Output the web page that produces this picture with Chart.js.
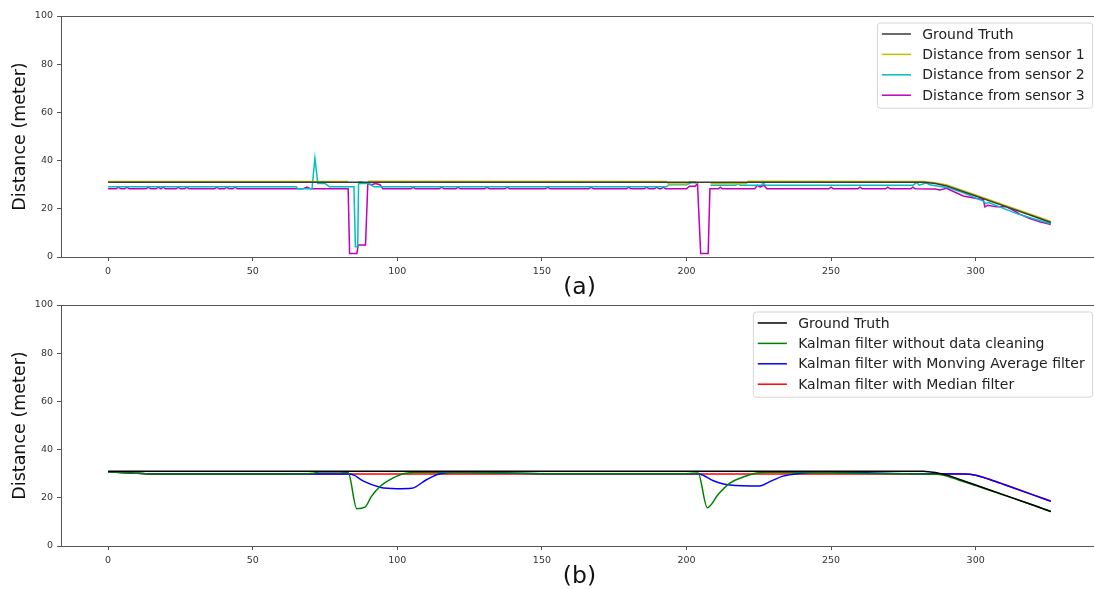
<!DOCTYPE html>
<html>
<head>
<meta charset="utf-8">
<script src="https://cdn.jsdelivr.net/npm/chart.js@4.4.0/dist/chart.umd.min.js"></script>
<style>
html, body { margin: 0; padding: 0; background: #fff; overflow: hidden; }
#wrap { position: relative; width: 1094px; height: 589px; overflow: hidden; }
.box { position: absolute; left: 0; width: 1100px; height: 300px; }
</style>
</head>
<body>
<div id="wrap">
  <div class="box" style="top:0"><canvas id="chartA" width="1100" height="300"></canvas></div>
  <div class="box" style="top:289px"><canvas id="chartB" width="1100" height="300"></canvas></div>
</div>
<script>
// axis setup
const xTicks = [0, 50, 100, 150, 200, 250, 300];
const yTicks = [0, 20, 40, 60, 80, 100];
const xMin = -16.3, xMax = 342.3;

// [sample, distance]; null = hidden behind sensor 3's drop
const groundTruth = [[0,31],[282,31],[286,30.5],[290,29.5],[300,25.3],[310,21.1],[320,16.9],[326,14.3]];

const sensor1 = [[0,31.3],[83,31.3],[83.3,null],[86.5,31.2],[88,31.2],[88.3,null],[89.8,31.4],
  [193,31.3],[194,30.3],[200,30.3],[201,31.2],[203,31.2],[203.8,30.5],[204.3,null],
  [208.3,30.4],[220.5,30.4],[221.5,31.4],[282,31.3],[286,30.8],[290,29.9],[300,25.7],[310,21.5],[320,17.3],[326,14.7]];

const sensor2 = [[0,29.1],[65,29.1],[65.5,28.3],[70.5,28.3],[71.5,41],[72.5,30.5],[75,30.5],[76.5,29.1],
  [85,29.1],[85.5,4.3],[86.3,4.3],[86.6,30.5],[90,30.5],[92,29.1],[193,29.1],[194,30],[200,30],[201.5,30.8],
  [203,30.8],[203.8,30.5],[204.3,null],[208.3,29.8],[217,29.8],[217.8,30.4],[218.6,29.8],[226,29.8],
  [226.5,30.8],[227.2,29.8],[278.4,29.8],[279.5,30.9],[280.5,29.8],[283,30.8],[284,30],[291,28.6],[296,26.5],
  [302.6,23.2],[303.5,22.2],[304.5,22.6],[314,18.1],[320,15.9],[326,13.8]];

const sensor3 = [[0,28.3],[2.8,28.3],[3.6,29],[4.4,28.3],[5.7,28.3],[6.5,29],[7.3,28.3],[13.1,28.3],[13.9,29],
  [14.7,28.3],[16.6,28.3],[17.4,29],[18.2,28.3],[19.1,29],[19.9,28.3],[23.5,28.3],[24.3,29],[25.1,28.3],
  [26.4,28.3],[27.2,29],[28,28.3],[36.8,28.3],[37.6,29],[38.4,28.3],[40.2,28.3],[41,29],[41.8,28.3],
  [43.1,28.3],[43.9,29],[44.7,28.3],[67.5,28.3],[68.7,29],[69.9,28.3],[83,28.3],[83.5,1.5],[86,1.5],
  [86.5,5],[89,5],[89.8,30.5],[91,30],[92.5,30.5],[94,30],[95,28.3],[104.7,28.3],[105.5,29],[106.3,28.3],
  [114.5,28.3],[115.3,29],[116.1,28.3],[120.2,28.3],[121,29],[121.8,28.3],[130.2,28.3],[131,29],[131.8,28.3],
  [137.2,28.3],[138,29],[138.8,28.3],[151.2,28.3],[152,29],[152.8,28.3],[166.2,28.3],[167,29],[167.8,28.3],
  [179.2,28.3],[180,29],[180.8,28.3],[185.4,28.3],[186.2,29],[187,28.3],[188.9,28.3],[189.7,29],[190.5,28.3],
  [191.2,28.3],[192,29],[192.8,28.3],[200,28.3],[201,29.4],[203,29.4],[203.8,30.5],[204.9,1.5],[207.5,1.5],
  [208.1,28.3],[211,28.3],[211.7,29],[212.4,28.3],[223.6,28.3],[224.5,29.8],[225.5,29],[226.8,29.8],
  [227.8,28.3],[249.2,28.3],[250,29],[250.8,28.3],[259.2,28.3],[260,29],[260.8,28.3],[268.8,28.3],[269.6,29],
  [270.4,28.3],[277.5,28.3],[278.3,29],[279.1,28.3],[286,28.2],[287.6,27.8],[289.9,28.5],[295.7,25.3],
  [300.3,24.3],[302.6,23.9],[303.2,20.8],[304.3,21.5],[307.2,20.8],[310.6,20.8],[312.9,19.5],[315.2,17.8],
  [318.7,16],[322.2,14.6],[326,13.5]];

const kalmanRaw = [[0,30.8],[8,30.3],[15,29.9],[66,29.9],[71,30.2],[73,30.7],[80,30.7],[83,30.5],[86,15.5],
  [88.8,16.1],[91,20.5],[94,24.7],[98.6,28.3],[103,30.2],[110,30.6],[125,30.5],[150,30],[200,30],[204,30.3],
  [207.2,15.9],[211,21.5],[215,26.1],[219.6,28.6],[224.2,30.3],[230,30.6],[250,30.4],[270,30],[286,29.8],
  [289,29.4],[294,27.4],[300,25.1],[310,21],[320,16.9],[326,14.3]];

const kalmanMA = [[0,30.8],[8,30.3],[15,29.9],[83,29.9],[85,29.4],[88.3,26.9],[94,24.4],[99.8,23.8],[105,24],
  [110.2,27.6],[114.8,30],[120.5,30.5],[135,30.4],[155,30],[203,30],[204.5,29.9],[209.3,27.1],[215,25.3],
  [225.4,24.9],[228.8,26.7],[233.4,29],[239.2,30.1],[245,30.5],[262,30.4],[278,30],[296,29.9],[300,29.4],
  [305,27.5],[310,25.4],[320,21.1],[326,18.5]];

const kalmanMedian = [[0,30.8],[8,30.3],[15,29.9],[296,29.9],[300,29.4],[305,27.6],[310,25.5],[320,21.2],[326,18.7]];

const FAMILY = '"DejaVu Sans", sans-serif';

function pts(arr) {
  return arr.map(p => ({ x: p[0], y: p[1] }));
}

function line(label, arr, color, smooth) {
  return {
    label: label,
    data: pts(arr),
    borderColor: color,
    backgroundColor: color,
    borderWidth: 1.5,
    pointRadius: 0,
    fill: false,
    spanGaps: false,
    tension: 0,
    cubicInterpolationMode: smooth ? 'monotone' : 'default'
  };
}

// box legend in the upper right corner, like matplotlib's
const boxLegend = {
  id: 'boxLegend',
  afterDraw(chart) {
    const ctx = chart.ctx;
    const area = chart.chartArea;
    const sets = chart.data.datasets;
    ctx.save();
    ctx.font = '14px ' + FAMILY;
    const textW = Math.max(...sets.map(d => ctx.measureText(d.label).width));
    const rowH = 20.4;
    const w = 44.8 + textW + 8;
    const h = 11 + rowH * (sets.length - 1) + 13;
    const right = area.right - 5.3;
    const left = right - w;
    const top = area.top + 7;
    ctx.beginPath();
    ctx.roundRect(left, top, w, h, 3);
    ctx.fillStyle = 'rgba(255,255,255,0.85)';
    ctx.fill();
    ctx.strokeStyle = '#d6d6d6';
    ctx.lineWidth = 1;
    ctx.stroke();
    sets.forEach((d, i) => {
      const y = top + 11 + i * rowH;
      ctx.beginPath();
      ctx.moveTo(left + 4.4, y);
      ctx.lineTo(left + 33.5, y);
      ctx.strokeStyle = d.borderColor;
      ctx.lineWidth = 1.5;
      ctx.stroke();
      ctx.fillStyle = '#222';
      ctx.textBaseline = 'middle';
      ctx.fillText(d.label, left + 44.8, y + 1);
    });
    ctx.restore();
  }
};

// top and right spines
const frame = {
  id: 'frame',
  afterDatasetsDraw(chart) {
    const a = chart.chartArea;
    const ctx = chart.ctx;
    ctx.save();
    ctx.strokeStyle = '#555';
    ctx.lineWidth = 1;
    ctx.strokeRect(a.left + 0.5, a.top + 0.5, a.right - a.left, a.bottom - a.top);
    ctx.restore();
  }
};

function makeOptions(caption) {
  return {
    responsive: false,
    animation: false,
    layout: { padding: { left: 0, top: 16, right: 2, bottom: 0 } },
    plugins: { legend: { display: false }, tooltip: { enabled: false } },
    scales: {
      x: {
        type: 'linear',
        min: xMin,
        max: xMax,
        afterBuildTicks: s => { s.ticks = xTicks.map(v => ({ value: v })); },
        afterFit: s => { s.height = 43; },
        grid: { drawOnChartArea: false, drawTicks: true, tickLength: 4, color: '#555' },
        border: { color: '#555', width: 1 },
        ticks: { font: { family: FAMILY, size: 9.5 }, color: '#333', padding: 5, maxRotation: 0 },
        title: { display: true, text: caption, color: '#111',
          font: { family: FAMILY, size: 23.5, lineHeight: 1.0 }, padding: { top: 0, bottom: 0 } }
      },
      y: {
        min: 0,
        max: 100,
        afterBuildTicks: s => { s.ticks = yTicks.map(v => ({ value: v })); },
        afterFit: s => { s.width = 61; },
        grid: { drawOnChartArea: false, drawTicks: true, tickLength: 4, color: '#555' },
        border: { color: '#555', width: 1 },
        ticks: { font: { family: FAMILY, size: 9.5 }, color: '#333', padding: 4 },
        title: { display: true, text: 'Distance (meter)', color: '#111',
          font: { family: FAMILY, size: 17.5 }, padding: { top: 9.5, bottom: 0 } }
      }
    }
  };
}

new Chart(document.getElementById('chartA'), {
  type: 'line',
  data: {
    datasets: [
      line('Ground Truth', groundTruth, '#3a3a3a', false),
      line('Distance from sensor 1', sensor1, '#bfbf00', false),
      line('Distance from sensor 2', sensor2, '#00bfbf', false),
      line('Distance from sensor 3', sensor3, '#bf00bf', false)
    ]
  },
  options: makeOptions('(a)'),
  plugins: [frame, boxLegend]
});

new Chart(document.getElementById('chartB'), {
  type: 'line',
  data: {
    datasets: [
      line('Ground Truth', groundTruth, '#000000', false),
      line('Kalman filter without data cleaning', kalmanRaw, '#008000', true),
      line('Kalman filter with Monving Average filter', kalmanMA, '#0000ff', true),
      line('Kalman filter with Median filter', kalmanMedian, '#ff0000', true)
    ]
  },
  options: makeOptions('(b)'),
  plugins: [frame, boxLegend]
});
</script>
</body>
</html>
